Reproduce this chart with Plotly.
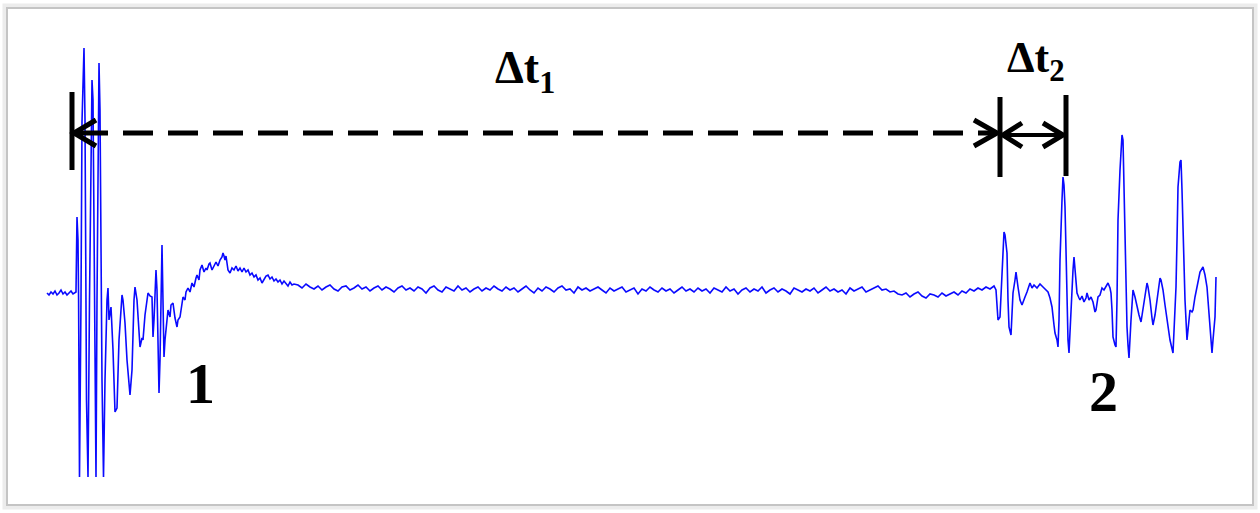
import plotly.graph_objects as go

# ---- Signal data (sample index, amplitude; baseline = 0, up positive) ----
pre_t = [47, 49, 51, 53, 55, 57, 59, 61, 63, 65, 67, 69, 71, 73, 75, 76]
pre_v = [0, -2, 1, -1, 2, -2, 0, 3, -1, 1, -2, 0, 2, -1, 0, 1]

burst1_t = [77, 78, 78.6, 79.5, 81, 82, 84, 85, 86.5, 88, 89.5, 91, 92, 93, 94.5, 96, 97, 98, 99, 100,
            102, 103.5, 105, 107, 108, 109, 110, 111, 113, 115, 117, 119, 122, 123, 125, 127, 130, 132,
            134, 135, 137, 140, 142, 143, 145, 148, 150, 152, 153, 154, 156, 157, 159, 160, 162, 163,
            164, 165, 167, 168, 170, 171, 173, 175, 177, 178, 180, 182, 183, 185, 186, 188, 190, 192,
            194, 196, 197, 199, 200, 202, 204, 206, 207, 209, 210, 212, 214, 216, 218, 220, 222, 223,
            224, 225, 226, 228, 230, 232, 234, 236, 238, 240, 242, 244, 246, 248, 250, 252, 254, 256,
            258, 260, 262, 264, 266, 268, 270, 272, 274, 276, 278, 280, 282, 284, 286, 288, 290, 292,
            294]
burst1_v = [76, 53, -7, -184, -7, 171, 245, 173, -107, -184, -7, 173, 213, 193, -57, -184, -7, 173, 230, 183,
            -87, -184, -87, -7, 5, -27, -22, -14, -57, -119, -115, -47, -2, -7, -30, -67, -102, -77,
            -7, 6, -7, -54, -45, -47, -22, 0, -3, -4, -44, -27, 23, 3, -100, -67, 48, 3,
            -64, -47, -30, -17, -24, -12, -10, -25, -34, -27, -24, -12, -4, -7, 1, 5, 1, 10,
            6, 15, 18, 13, 23, 28, 21, 25, 23, 29, 30, 23, 27, 31, 27, 33, 36, 40,
            37, 33, 37, 23, 20, 25, 23, 27, 22, 25, 21, 25, 21, 23, 18, 20, 16, 18,
            13, 15, 10, 13, 17, 18, 14, 16, 12, 14, 11, 13, 9, 12, 10, 7, 11, 8,
            9]

flat_t = list(range(298, 995, 4))
flat_v = [8, 5, 9, 6, 4, 7, 3, 6, 8, 4, 2, 6, 7, 3, 5, 8, 4, 6, 2, 5, 7, 3, 6, 4, 1, 5,
          7, 3, 5, 2, 6, 4, 0, 5, 7, 3, 1, 6, 4, 2, 7, 3, 5, 1, 4, 6, 2, 5, 3, 7, 4,
          2, 6, 3, 5, 1, 4, 7, 3, 0, 5, 2, 6, 4, 1, 5, 7, 3, 4, 0, 6, 3, 5, 2, 4, 6,
          3, 0, 5, 2, 4, 6, 1, 3, 5, -1, 4, 2, 6, 3, 1, 5, 2, 4, 0, 3, 6, 2, 4, 1, 5,
          2, 4, 0, 5, 3, 1, 6, 2, 4, -1, 3, 5, 1, 4, 2, 6, 0, 3, 5, 1, 4, 2, -1, 5, 3,
          1, 4, 2, 5, 0, 3, 6, 2, 4, 1, 3, -1, 5, 2, 4, 6, 1, 3, 5, 7, 3, 4, 1, 2, -1,
          -2, 0, -4, -1, 1, -3, -5, -1, -2, -4, 0, -3, -1, 1, -2, 2, 0, 4, 2, 5, 3, 6, 4, 7]

burst2_t = [996, 998, 1000, 1002, 1004, 1005, 1007, 1008, 1009, 1011, 1013, 1015, 1016, 1018, 1020, 1022,
            1024, 1025, 1027, 1030, 1032, 1034, 1037, 1040, 1043, 1046, 1048, 1050, 1052, 1054, 1055,
            1057, 1058, 1059, 1060, 1062, 1063, 1064, 1065, 1066, 1067, 1068, 1069, 1070, 1072, 1073,
            1074, 1075, 1077, 1079, 1080, 1082, 1084, 1086, 1087, 1089, 1091, 1093, 1095, 1096, 1098,
            1100, 1102, 1104, 1106, 1108, 1110, 1111, 1112, 1113, 1115, 1116, 1117, 1118, 1120, 1122,
            1123, 1124, 1125, 1127, 1128, 1129, 1131, 1132, 1133, 1135, 1137, 1139, 1141, 1142, 1144,
            1146, 1147, 1148, 1150, 1152, 1153, 1155, 1157, 1158, 1160, 1161, 1163, 1165, 1168, 1170,
            1173, 1174, 1176, 1177, 1178, 1180, 1181, 1182, 1183, 1185, 1187, 1188, 1190, 1192, 1193,
            1195, 1198, 1200, 1203, 1205, 1207, 1209, 1210, 1212, 1213, 1215, 1216]
burst2_v = [3, -27, -24, 13, 61, 58, 40, -7, -34, -42, 0, 13, 21, 6, -7, -12,
            -5, -4, 1, 10, 5, 8, 5, 9, 6, 3, 1, -5, -14, -32, -40,
            -47, -54, -27, 33, 93, 116, 108, 86, 43, -7, -47, -60, -37, 6, 23,
            36, 23, 0, -5, -7, -3, -9, -5, 0, -7, -4, -9, -19, -17, -4,
            -2, 5, 3, 7, 10, 5, 0, -17, -44, -52, -54, -7, 73, 123, 158,
            153, 103, 40, -34, -52, -65, -27, -7, 3, -4, -14, -22, -29, -22, -7,
            3, 10, 6, -7, -25, -32, -22, -7, 5, 15, 13, 3, -12, -34, -47,
            -60, -37, 6, 53, 106, 131, 133, 103, 56, -7, -47, -37, -17, -19, -17,
            -4, 13, 21, 26, 18, 6, -22, -40, -60, -47, -24, 16]

labels = {"dt1": "Δt<sub>1</sub>", "dt2": "Δt<sub>2</sub>", "p1": "1", "p2": "2"}

t = pre_t + burst1_t + flat_t + burst2_t
v = pre_v + burst1_v + flat_v + burst2_v

fig = go.Figure()
fig.add_trace(go.Scatter(x=t, y=v, mode="lines",
                         line=dict(color="#0a0aff", width=1.6), hoverinfo="skip"))

BLK = "black"
shapes = []
# frame with shadow
shapes.append(dict(type="rect", xref="x", yref="y", x0=5, x1=1255, y0=287, y1=-214,
                   line=dict(color="#ececec", width=5)))
shapes.append(dict(type="rect", xref="x", yref="y", x0=7, x1=1253, y0=285, y1=-212,
                   line=dict(color="#c4c4c4", width=2)))
# vertical bars
for x0, ya, yb in [(72, 201, 123), (1000, 196, 116), (1066, 198, 117)]:
    shapes.append(dict(type="line", x0=x0, x1=x0, y0=ya, y1=yb, line=dict(color=BLK, width=5)))
# dashed line dt1
shapes.append(dict(type="line", x0=78, x1=994, y0=160, y1=160,
                   line=dict(color=BLK, width=5, dash="30px,15px")))
# dt2 solid line
shapes.append(dict(type="line", x0=1004, x1=1062, y0=158, y1=158, line=dict(color=BLK, width=4)))
# chevrons
chev = [((74, 160), (96, 173), (96, 147)),
        ((997, 160), (974, 173), (974, 147)),
        ((1003, 158), (1022, 170), (1022, 146)),
        ((1063, 158), (1043, 170), (1043, 146))]
for (tx, ty), (ax, ay), (bx, by) in chev:
    shapes.append(dict(type="path", path=f"M{ax},{ay} L{tx},{ty} L{bx},{by}",
                       line=dict(color=BLK, width=5)))
fig.update_layout(shapes=shapes)

def fnt(size):
    return dict(family="Liberation Serif", color="black", size=size, weight="bold")

anns = [
    dict(x=525, y=222, text=labels["dt1"], font=fnt(46)),
    dict(x=1036, y=233, text=labels["dt2"], font=fnt(44)),
    dict(x=200, y=-90, text=labels["p1"], font=fnt(58)),
    dict(x=1103, y=-98, text=labels["p2"], font=fnt(58)),
]
for a in anns:
    a.update(xref="x", yref="y", showarrow=False, xanchor="center", yanchor="middle")
fig.update_layout(annotations=anns)

fig.update_layout(
    width=1260, height=513, margin=dict(l=0, r=0, t=0, b=0),
    paper_bgcolor="white", plot_bgcolor="white", showlegend=False,
    xaxis=dict(range=[0, 1260], visible=False, fixedrange=True),
    yaxis=dict(range=[-220, 293], visible=False, fixedrange=True),
)
fig.write_html("out.html", config={"displayModeBar": False})
